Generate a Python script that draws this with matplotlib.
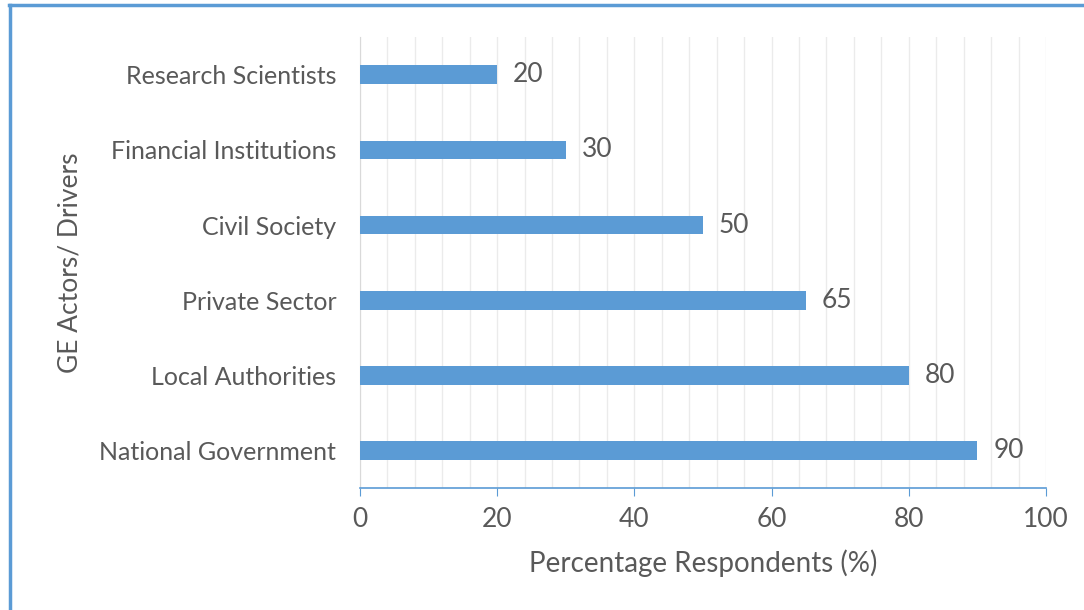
import matplotlib.pyplot as plt
from matplotlib.lines import Line2D

# data (bottom to top)
actors = ['National Government', 'Local Authorities', 'Private Sector',
          'Civil Society', 'Financial Institutions', 'Research Scientists']
percent = [90, 80, 65, 50, 30, 20]
xticks = [0, 20, 40, 60, 80, 100]

bar_color = '#5B9BD5'
text_color = '#595959'
plt.rcParams['font.family'] = ['Lato', 'DejaVu Sans']

fig = plt.figure(figsize=(10.84, 6.1), dpi=100)
ax = fig.add_axes([0.332, 0.2, 0.633, 0.739])

pos = range(len(actors))
ax.barh(pos, percent, height=0.25, color=bar_color, zorder=3)

# value labels
for p, v in zip(pos, percent):
    ax.text(v + 2.3, p, str(v), va='center', ha='left', fontsize=19, color=text_color)

ax.set_xlim(0, 100)
ax.set_ylim(-0.5, 5.5)
ax.set_yticks(list(pos))
ax.set_yticklabels(actors, fontsize=18, color=text_color)
ax.set_xticks(xticks)
ax.set_xticklabels([str(t) for t in xticks], fontsize=19, color=text_color)
ax.set_xticks(range(0, 101, 4), minor=True)

# light vertical gridlines
ax.grid(axis='x', which='both', color='#EBEBEB', linewidth=1, zorder=0)
ax.tick_params(axis='x', which='minor', length=0)
ax.tick_params(axis='x', which='major', direction='out', length=6, color=bar_color, pad=8)
ax.tick_params(axis='y', length=0, pad=17)

for s in ['top', 'right']:
    ax.spines[s].set_visible(False)
ax.spines['left'].set_color('#D9D9D9')
ax.spines['bottom'].set_color(bar_color)
ax.spines['bottom'].set_linewidth(1.2)

ax.set_xlabel('Percentage Respondents (%)', fontsize=20, color=text_color, labelpad=12)
ax.set_ylabel('GE Actors/ Drivers', fontsize=19, color=text_color, labelpad=12)

# blue frame at top and left edge
fig.add_artist(Line2D([0.008, 1.0], [0.991, 0.991], transform=fig.transFigure,
                      color=bar_color, linewidth=2.5))
fig.add_artist(Line2D([0.009, 0.009], [0.0, 0.991], transform=fig.transFigure,
                      color=bar_color, linewidth=2.5))

fig.savefig('out.png', dpi=100)
